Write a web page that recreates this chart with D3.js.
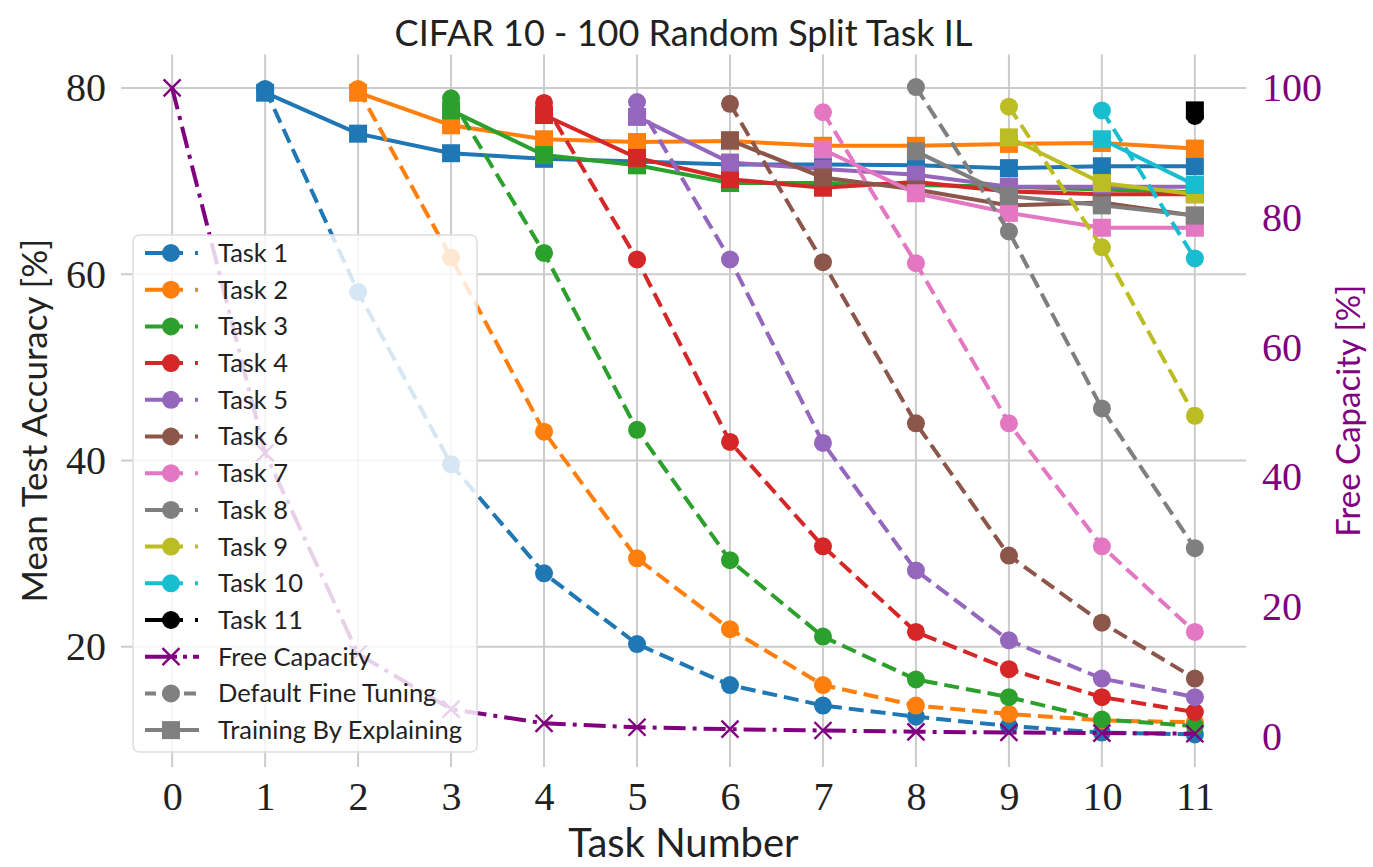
<!DOCTYPE html>
<html><head><meta charset="utf-8">
<script src="https://cdn.jsdelivr.net/npm/d3@7"></script>
<style>body{margin:0;background:#fff}</style>
</head><body>
<svg id="chart" width="1373" height="867"></svg>
<script>
// ---------- data ----------
const taskNumbers = [0,1,2,3,4,5,6,7,8,9,10,11];
const taskLabels = ["Task 1","Task 2","Task 3","Task 4","Task 5","Task 6","Task 7","Task 8","Task 9","Task 10","Task 11"];
const taskColors = ["#1f77b4","#ff7f0e","#2ca02c","#d62728","#9467bd","#8c564b","#e377c2","#7f7f7f","#bcbd22","#17becf","#000000"];
const leftTicks = [20,40,60,80];
const rightTicks = [0,20,40,60,80,100];
const titleText = "CIFAR 10 - 100 Random Split Task IL";

// free capacity (right axis) for tasks 0..11
const freeCapacity = [100,43.7,12.7,4.2,2.0,1.4,1.1,0.9,0.7,0.6,0.5,0.4];

// Default Fine Tuning (dashed, circles), values from the task's own start up to task 11
const fineTuneTask1  = [79.9,58.1,39.6,27.9,20.3,15.9,13.7,12.5,11.5,10.8,10.6];
const fineTuneTask2  = [79.9,61.8,43.1,29.5,21.9,15.9,13.7,12.8,12.1,11.9];
const fineTuneTask3  = [78.9,62.3,43.3,29.3,21.1,16.5,14.6,12.2,11.5];
const fineTuneTask4  = [78.4,61.6,42.0,30.8,21.6,17.6,14.6,13.0];
const fineTuneTask5  = [78.5,61.6,41.9,28.2,20.7,16.6,14.6];
const fineTuneTask6  = [78.3,61.3,44.0,29.8,22.6,16.6];
const fineTuneTask7  = [77.4,61.2,44.0,30.8,21.6];
const fineTuneTask8  = [80.1,64.6,45.6,30.6];
const fineTuneTask9  = [78.0,62.9,44.8];
const fineTuneTask10 = [77.6,61.7];
const fineTuneTask11 = [77.0];

// Training By Explaining (solid, squares)
const tbeTask1  = [79.5,75.1,73.0,72.4,72.1,71.8,71.8,71.7,71.4,71.6,71.6];
const tbeTask2  = [79.5,76.0,74.5,74.2,74.3,73.8,73.8,74.0,74.1,73.5];
const tbeTask3  = [77.6,72.8,71.7,69.8,69.8,69.6,69.4,69.1,68.8];
const tbeTask4  = [77.1,72.5,70.2,69.3,69.9,68.9,68.6,68.6];
const tbeTask5  = [76.9,72.0,71.3,70.7,69.4,69.4,69.4];
const tbeTask6  = [74.4,70.4,69.1,67.4,67.7,66.3];
const tbeTask7  = [73.4,68.7,66.6,65.0,65.0];
const tbeTask8  = [73.2,68.4,67.4,66.3];
const tbeTask9  = [74.7,69.8,68.6];
const tbeTask10 = [74.5,69.6];
const tbeTask11 = [77.6];

const fineTuneAll = [fineTuneTask1,fineTuneTask2,fineTuneTask3,fineTuneTask4,fineTuneTask5,fineTuneTask6,fineTuneTask7,fineTuneTask8,fineTuneTask9,fineTuneTask10,fineTuneTask11];
const tbeAll = [tbeTask1,tbeTask2,tbeTask3,tbeTask4,tbeTask5,tbeTask6,tbeTask7,tbeTask8,tbeTask9,tbeTask10,tbeTask11];

// ---------- layout ----------
const plot = {left:121, right:1246, top:54.5, bottom:767};
const svg = d3.select("#chart");

const x  = d3.scaleLinear().domain([-0.55, 11.55]).range([plot.left, plot.right]);
const yL = d3.scaleLinear().domain([7.1, 83.6]).range([plot.bottom, plot.top]);
const yR = d3.scaleLinear().domain([-4.5, 105]).range([765.5, 55.5]);

const sansFont = "Lato, 'Open Sans', sans-serif";
const serifFont = "'Liberation Serif', 'DejaVu Serif', serif";
const gridColor = "#cccccc";
const purple = "#800080";
const LW = 4, DASH = "15,7", DASHDOT = "22,7,4,7";
const R = 9, SQ = 18;

// grid
const grid = svg.append("g");
grid.selectAll("line.v").data(taskNumbers).join("line")
  .attr("x1", d => x(d)).attr("x2", d => x(d))
  .attr("y1", plot.top).attr("y2", plot.bottom)
  .attr("stroke", gridColor).attr("stroke-width", 2);
grid.selectAll("line.h").data(leftTicks).join("line")
  .attr("x1", plot.left).attr("x2", plot.right)
  .attr("y1", d => yL(d)).attr("y2", d => yL(d))
  .attr("stroke", gridColor).attr("stroke-width", 2);

// axes
const xAxis = svg.append("g").attr("transform", `translate(0,${plot.bottom})`)
  .call(d3.axisBottom(x).tickValues(taskNumbers).tickSize(0).tickPadding(15));
const yAxisL = svg.append("g").attr("transform", `translate(${plot.left},0)`)
  .call(d3.axisLeft(yL).tickValues(leftTicks).tickSize(0).tickPadding(15));
const yAxisR = svg.append("g").attr("transform", `translate(${plot.right},0)`)
  .call(d3.axisRight(yR).tickValues(rightTicks).tickSize(0).tickPadding(16));
[xAxis, yAxisL, yAxisR].forEach(g => {
  g.select(".domain").remove();
  g.selectAll("text").attr("font-family", serifFont).attr("font-size", 40).attr("fill", "#222");
});
yAxisR.selectAll("text").attr("fill", purple);

// titles
svg.append("text").attr("x", (plot.left+plot.right)/2).attr("y", 46)
  .attr("text-anchor","middle").attr("font-family", sansFont).attr("font-size", 36)
  .attr("fill","#222").text(titleText);
svg.append("text").attr("x", (plot.left+plot.right)/2).attr("y", 857)
  .attr("text-anchor","middle").attr("font-family", sansFont).attr("font-size", 40)
  .attr("fill","#222").text("Task Number");
svg.append("text").attr("transform", `translate(47,${(plot.top+plot.bottom)/2 + 10}) rotate(-90)`)
  .attr("text-anchor","middle").attr("font-family", sansFont).attr("font-size", 35)
  .attr("fill","#222").text("Mean Test Accuracy [%]");
svg.append("text").attr("transform", `translate(1360,${(plot.top+plot.bottom)/2}) rotate(-90)`)
  .attr("text-anchor","middle").attr("font-family", sansFont).attr("font-size", 33)
  .attr("fill", purple).text("Free Capacity [%]");

// series
const lineL = d3.line().x(d => x(d.t)).y(d => yL(d.v));
const lineR = d3.line().x(d => x(d.t)).y(d => yR(d.v));
const series = svg.append("g");
fineTuneAll.forEach((vals, i) => {
  const start = i + 1;
  const color = taskColors[i];
  const ft = vals.map((v, k) => ({t: start + k, v}));
  const tb = tbeAll[i].map((v, k) => ({t: start + k, v}));
  const g = series.append("g");
  g.append("path").datum(ft).attr("d", lineL).attr("fill","none")
    .attr("stroke", color).attr("stroke-width", LW).attr("stroke-dasharray", DASH);
  g.selectAll("circle").data(ft).join("circle")
    .attr("cx", d => x(d.t)).attr("cy", d => yL(d.v)).attr("r", R).attr("fill", color);
  g.append("path").datum(tb).attr("d", lineL).attr("fill","none")
    .attr("stroke", color).attr("stroke-width", LW);
  g.selectAll("rect").data(tb).join("rect")
    .attr("x", d => x(d.t) - SQ/2).attr("y", d => yL(d.v) - SQ/2)
    .attr("width", SQ).attr("height", SQ).attr("fill", color);
});

// free capacity
const fc = freeCapacity.map((v, t) => ({t, v}));
const fcG = svg.append("g");
fcG.append("path").datum(fc).attr("d", lineR).attr("fill","none")
  .attr("stroke", purple).attr("stroke-width", LW).attr("stroke-dasharray", DASHDOT);
const xMark = (cx, cy, s) => `M${cx-s},${cy-s}L${cx+s},${cy+s}M${cx-s},${cy+s}L${cx+s},${cy-s}`;
fcG.selectAll("path.mk").data(fc).join("path").attr("class","mk")
  .attr("d", d => xMark(x(d.t), yR(d.v), 8.5)).attr("stroke", purple)
  .attr("stroke-width", 2.4).attr("fill","none");

// legend
const lg = svg.append("g");
const legendEntries = taskLabels.map((name, i) => ({name, color: taskColors[i], kind:"task"}))
  .concat([{name:"Free Capacity", color: purple, kind:"fc"},
           {name:"Default Fine Tuning", color:"#808080", kind:"ft"},
           {name:"Training By Explaining", color:"#808080", kind:"tbe"}]);
const lgX = 133, lgY = 235, lgW = 344, lgH = 517, rowY0 = 253, rowDY = 36.7;
lg.append("rect").attr("x", lgX).attr("y", lgY).attr("width", lgW).attr("height", lgH)
  .attr("rx", 6).attr("fill", "#fff").attr("fill-opacity", 0.82)
  .attr("stroke", "#dedede").attr("stroke-width", 1.5);
legendEntries.forEach((e, i) => {
  const cy = rowY0 + i * rowDY;
  const h1 = 145, h2 = 199, mx = 171;
  const ln = lg.append("line").attr("x1", h1).attr("x2", h2).attr("y1", cy).attr("y2", cy)
    .attr("stroke", e.color).attr("stroke-width", LW);
  if (e.kind === "task") ln.attr("stroke-dasharray", "38,12,3,20");
  else if (e.kind === "ft") ln.attr("stroke-dasharray", "11,6,14,8,12");
  else if (e.kind === "fc") ln.attr("stroke-dasharray", "32,6,4,6,12");
  if (e.kind === "fc") {
    lg.append("path").attr("d", xMark(mx, cy, 8.5)).attr("stroke", e.color).attr("stroke-width", 2.4);
  } else if (e.kind === "tbe") {
    lg.append("rect").attr("x", mx - SQ/2).attr("y", cy - SQ/2).attr("width", SQ).attr("height", SQ).attr("fill", e.color);
  } else {
    lg.append("circle").attr("cx", mx).attr("cy", cy).attr("r", R).attr("fill", e.color);
  }
  lg.append("text").attr("x", 218).attr("y", cy).attr("dy", "0.35em")
    .attr("font-family", sansFont).attr("font-size", 25.5).attr("fill", "#222").text(e.name);
});
</script>
</body></html>
